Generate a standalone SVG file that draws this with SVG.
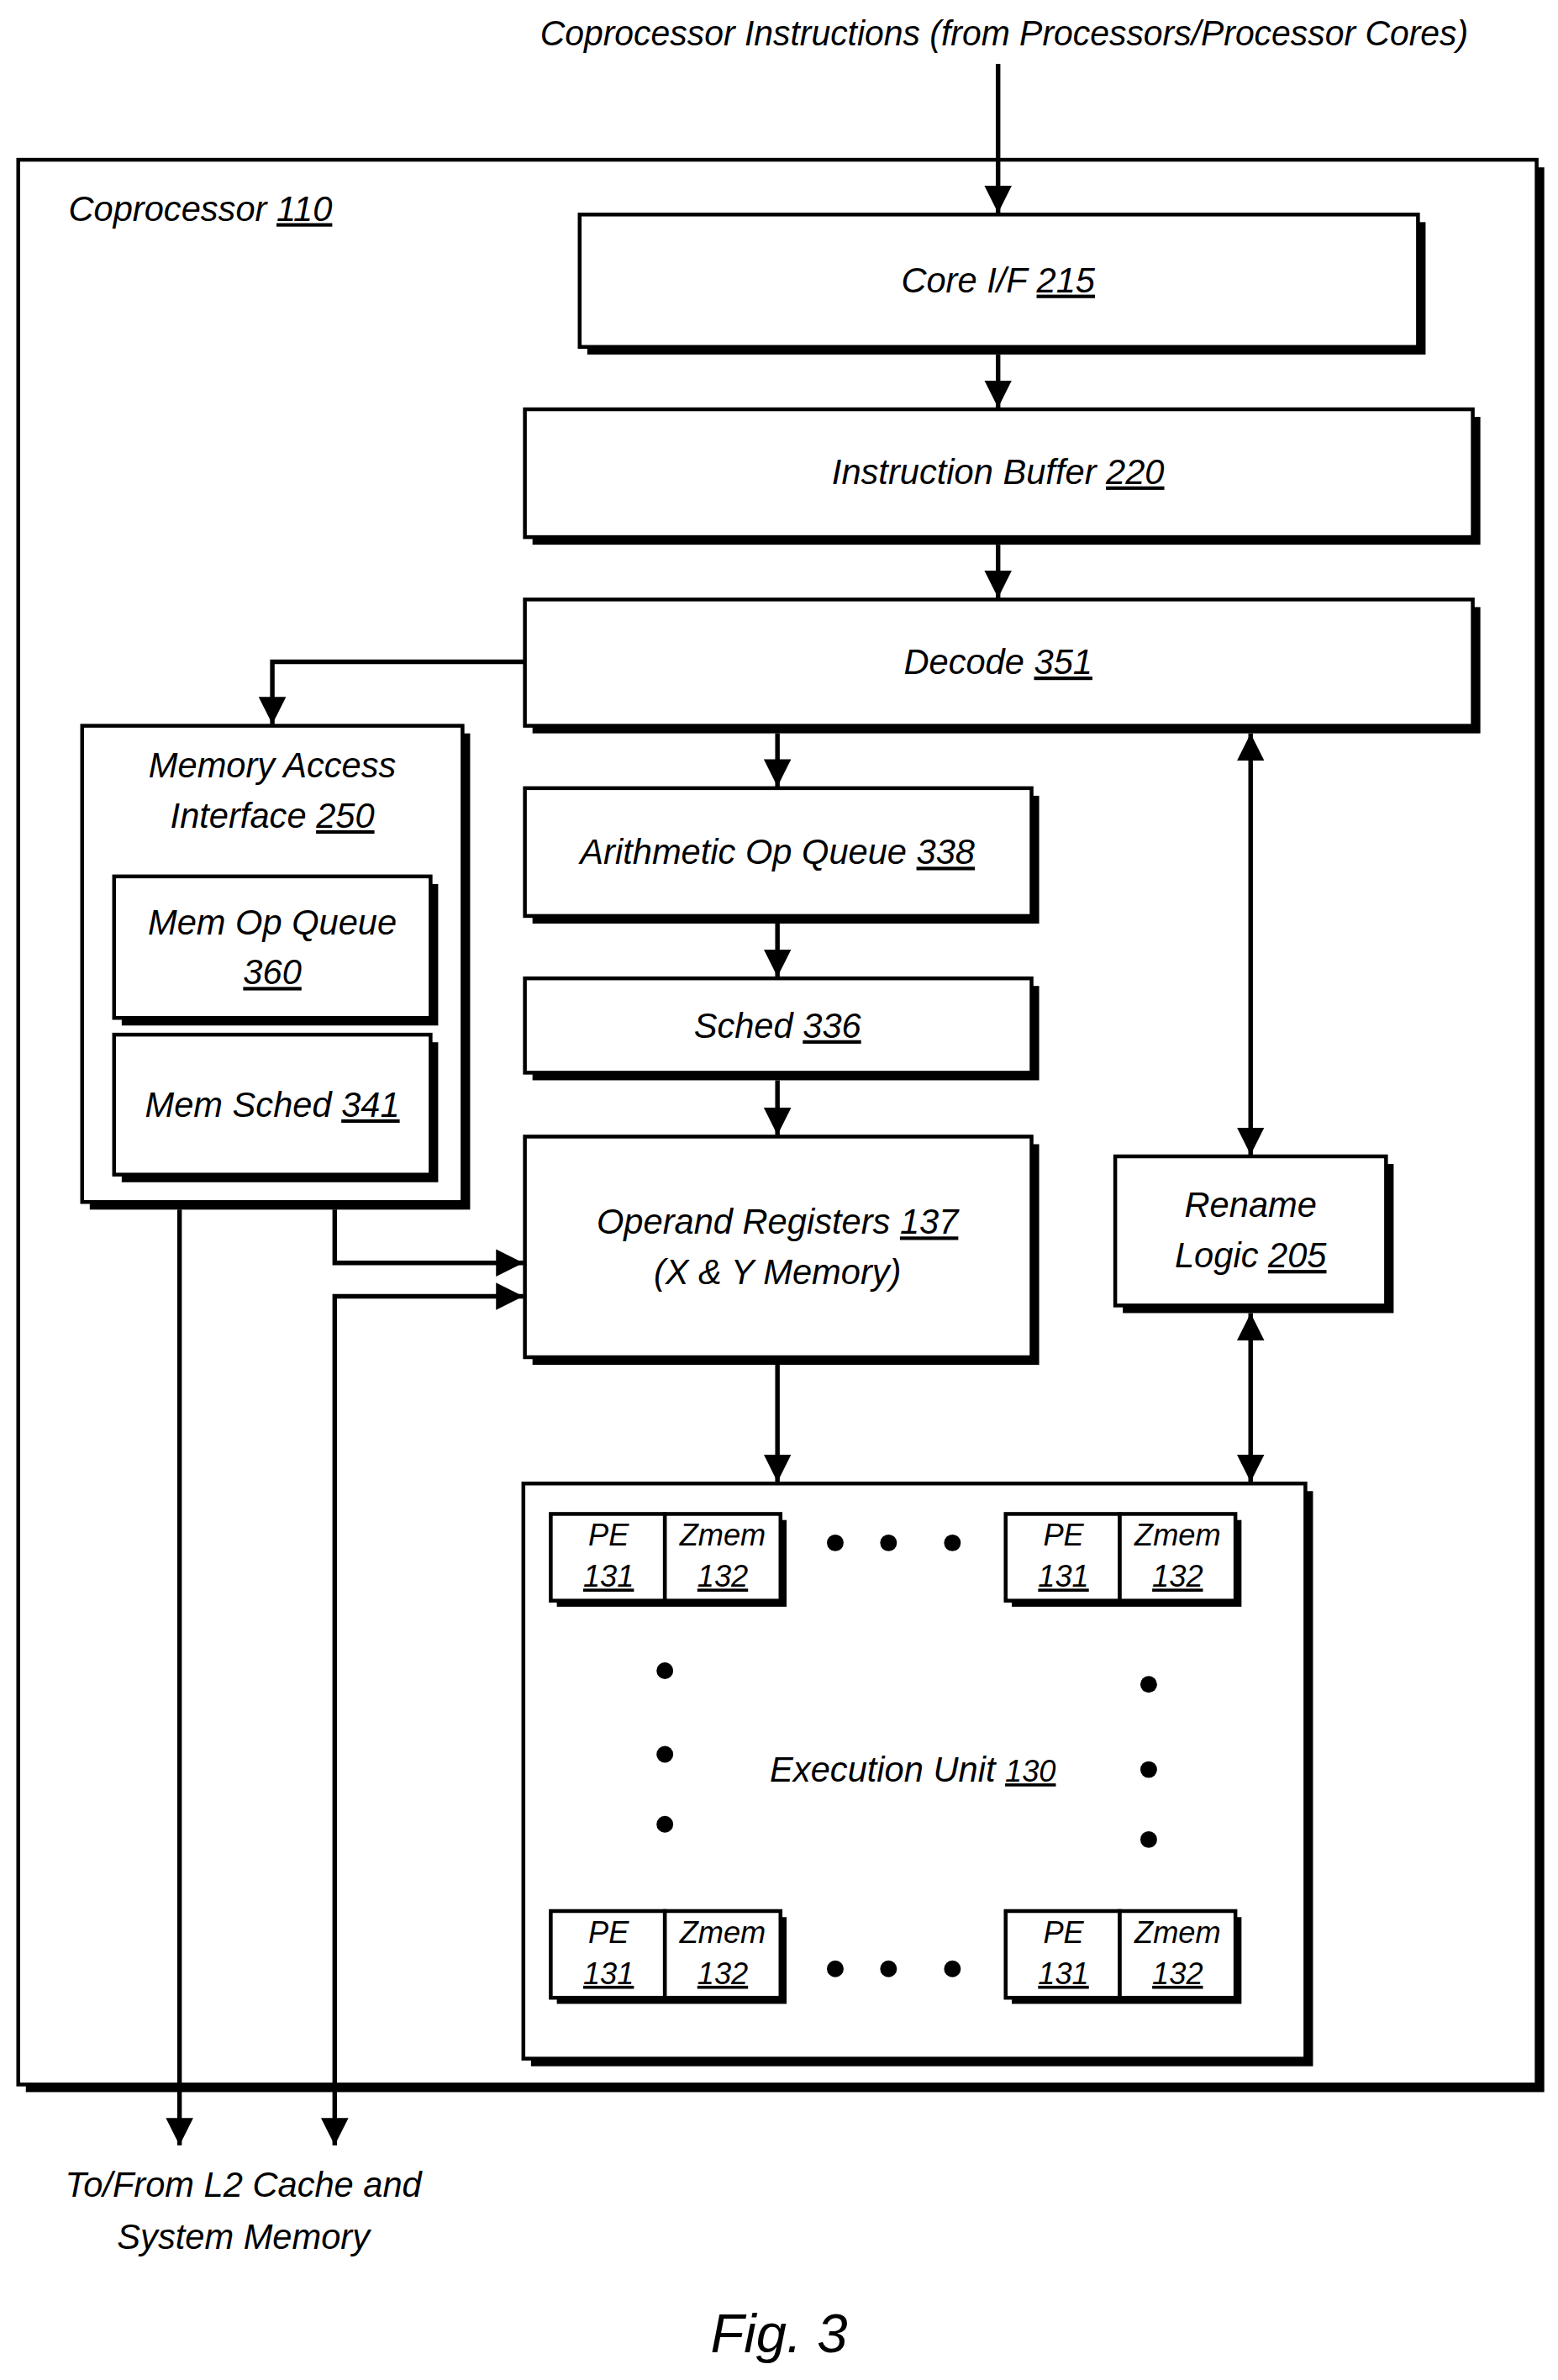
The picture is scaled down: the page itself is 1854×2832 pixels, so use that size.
<svg xmlns="http://www.w3.org/2000/svg" width="1854" height="2832" viewBox="0 0 1854 2832">
<style>
.b{fill:#fff;stroke:#000;stroke-width:2.5}
.s{fill:#000}
.t{font-family:"Liberation Sans",Arial,sans-serif;font-style:italic;font-size:23px;text-anchor:middle;fill:#000}
.sm{font-size:20px}
.u{text-decoration:underline}
.l{fill:none;stroke:#000;stroke-width:3}
</style>
<defs>
<marker id="a" viewBox="0 0 10 10" refX="10" refY="5" markerWidth="18" markerHeight="18" markerUnits="userSpaceOnUse" orient="auto-start-reverse"><path d="M0,0L10,5L0,10z"/></marker>
</defs>
<rect width="1854" height="2832" fill="#fff"/>
<g transform="scale(1.8105)">
<text class="t" x="660" y="30" textLength="610" lengthAdjust="spacingAndGlyphs">Coprocessor Instructions (from Processors/Processor Cores)</text>
<g id="coprocessor">
<rect class="s" x="17" y="110" width="998" height="1265"/>
<rect class="b" x="12" y="105" width="998" height="1265"/>
<text class="t" x="45" y="145" style="text-anchor:start">Coprocessor <tspan class="u">110</tspan></text>
</g>
<g id="corei">
<rect class="s" x="386" y="146" width="551" height="87"/><rect class="b" x="381" y="141" width="551" height="87"/>
<text class="t" x="656" y="192">Core I/F <tspan class="u">215</tspan></text></g>
<g id="ibuf">
<rect class="s" x="350" y="274" width="623" height="84"/><rect class="b" x="345" y="269" width="623" height="84"/>
<text class="t" x="656" y="318">Instruction Buffer <tspan class="u">220</tspan></text></g>
<g id="decode">
<rect class="s" x="350" y="399" width="623" height="83"/><rect class="b" x="345" y="394" width="623" height="83"/>
<text class="t" x="656" y="443">Decode <tspan class="u">351</tspan></text></g>
<g id="mai">
<rect class="s" x="59" y="482" width="250" height="313"/><rect class="b" x="54" y="477" width="250" height="313"/>
<text class="t" x="179" y="511">Memory Access</text><text class="t" x="179" y="544">Interface <tspan class="u">250</tspan></text></g>
<g id="memopq">
<rect class="s" x="80" y="581" width="208" height="93"/><rect class="b" x="75" y="576" width="208" height="93"/>
<text class="t" x="179" y="614">Mem Op Queue</text><text class="t u" x="179" y="647">360</text></g>
<g id="memsched">
<rect class="s" x="80" y="685" width="208" height="92"/><rect class="b" x="75" y="680" width="208" height="92"/>
<text class="t" x="179" y="734">Mem Sched <tspan class="u">341</tspan></text></g>
<g id="aoq">
<rect class="s" x="350" y="523" width="333" height="84"/><rect class="b" x="345" y="518" width="333" height="84"/>
<text class="t" x="511" y="568">Arithmetic Op Queue <tspan class="u">338</tspan></text></g>
<g id="sched">
<rect class="s" x="350" y="648" width="333" height="62"/><rect class="b" x="345" y="643" width="333" height="62"/>
<text class="t" x="511" y="682">Sched <tspan class="u">336</tspan></text></g>
<g id="opreg">
<rect class="s" x="350" y="752" width="333" height="145"/><rect class="b" x="345" y="747" width="333" height="145"/>
<text class="t" x="511" y="811">Operand Registers <tspan class="u">137</tspan></text><text class="t" x="511" y="844">(X &amp; Y Memory)</text></g>
<g id="rename">
<rect class="s" x="738" y="765" width="178" height="98"/><rect class="b" x="733" y="760" width="178" height="98"/>
<text class="t" x="822" y="800">Rename</text><text class="t" x="822" y="833">Logic <tspan class="u">205</tspan></text></g>
<g id="exec">
<rect class="s" x="349" y="980" width="514" height="378"/><rect class="b" x="344" y="975" width="514" height="378"/>
<text class="t" x="600" y="1171">Execution Unit <tspan class="u sm">130</tspan></text>
<g id="pe1"><rect class="s" x="366" y="999" width="151" height="57"/><rect class="b" x="362" y="995" width="75" height="57"/><rect class="b" x="437" y="995" width="76" height="57"/>
<text class="t sm" x="400" y="1016">PE</text><text class="t sm u" x="400" y="1043">131</text><text class="t sm" x="475" y="1016">Zmem</text><text class="t sm u" x="475" y="1043">132</text></g>
<g id="pe2"><rect class="s" x="665" y="999" width="151" height="57"/><rect class="b" x="661" y="995" width="75" height="57"/><rect class="b" x="736" y="995" width="76" height="57"/>
<text class="t sm" x="699" y="1016">PE</text><text class="t sm u" x="699" y="1043">131</text><text class="t sm" x="774" y="1016">Zmem</text><text class="t sm u" x="774" y="1043">132</text></g>
<g id="pe3"><rect class="s" x="366" y="1260" width="151" height="57"/><rect class="b" x="362" y="1256" width="75" height="57"/><rect class="b" x="437" y="1256" width="76" height="57"/>
<text class="t sm" x="400" y="1277">PE</text><text class="t sm u" x="400" y="1304">131</text><text class="t sm" x="475" y="1277">Zmem</text><text class="t sm u" x="475" y="1304">132</text></g>
<g id="pe4"><rect class="s" x="665" y="1260" width="151" height="57"/><rect class="b" x="661" y="1256" width="75" height="57"/><rect class="b" x="736" y="1256" width="76" height="57"/>
<text class="t sm" x="699" y="1277">PE</text><text class="t sm u" x="699" y="1304">131</text><text class="t sm" x="774" y="1277">Zmem</text><text class="t sm u" x="774" y="1304">132</text></g>
<g id="dots">
<circle cx="549" cy="1014" r="5.5"/><circle cx="584" cy="1014" r="5.5"/><circle cx="626" cy="1014" r="5.5"/>
<circle cx="549" cy="1294" r="5.5"/><circle cx="584" cy="1294" r="5.5"/><circle cx="626" cy="1294" r="5.5"/>
<circle cx="437" cy="1098" r="5.5"/><circle cx="437" cy="1153" r="5.5"/><circle cx="437" cy="1199" r="5.5"/>
<circle cx="755" cy="1107" r="5.5"/><circle cx="755" cy="1163" r="5.5"/><circle cx="755" cy="1209" r="5.5"/>
</g></g>
<g id="connectors">
<path class="l" d="M656,42V140" marker-end="url(#a)"/>
<path class="l" d="M656,233V268" marker-end="url(#a)"/>
<path class="l" d="M656,358V393" marker-end="url(#a)"/>
<path class="l" d="M345,435H179V476" marker-end="url(#a)"/>
<path class="l" d="M511,482V517" marker-end="url(#a)"/>
<path class="l" d="M511,607V642" marker-end="url(#a)"/>
<path class="l" d="M511,710V746" marker-end="url(#a)"/>
<path class="l" d="M511,897V974" marker-end="url(#a)"/>
<path class="l" d="M822,482V759" marker-start="url(#a)" marker-end="url(#a)"/>
<path class="l" d="M822,863V974" marker-start="url(#a)" marker-end="url(#a)"/>
<path class="l" d="M220,795V830H344" marker-end="url(#a)"/>
<path class="l" d="M220,1410V852H344" marker-start="url(#a)" marker-end="url(#a)"/>
<path class="l" d="M118,795V1410" marker-end="url(#a)"/>
</g>
<text class="t" x="160" y="1444">To/From L2 Cache and</text>
<text class="t" x="160" y="1478">System Memory</text>
<text class="t" x="512" y="1546" style="font-size:36px;font-style:italic">Fig. 3</text>
</g>
</svg>
